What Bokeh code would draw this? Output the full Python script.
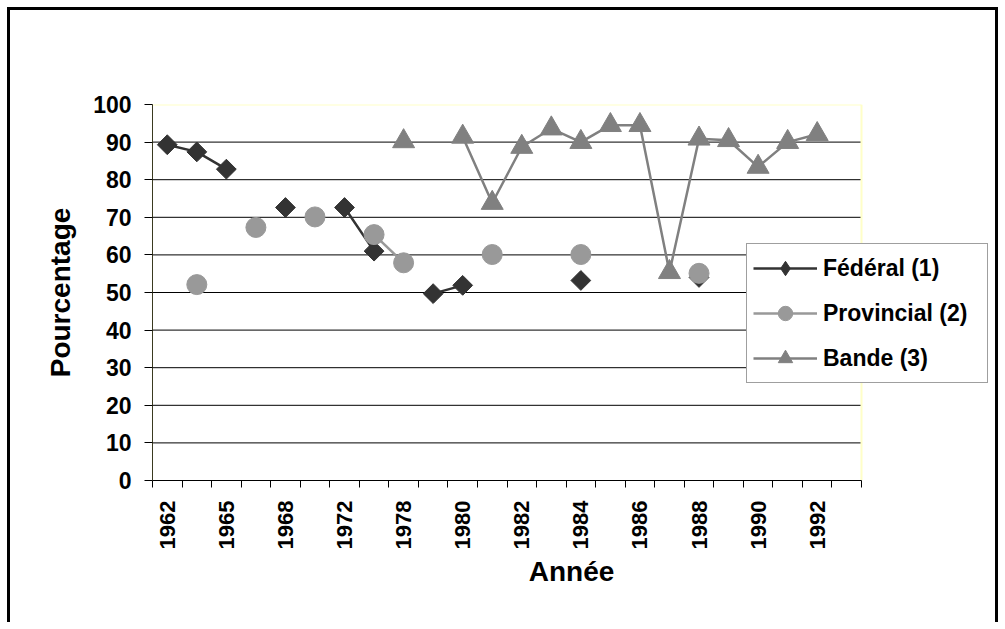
import math
from bokeh.plotting import figure
from bokeh.models import (ColumnDataSource, FixedTicker, Legend, LegendItem, Range1d)
from bokeh.embed import file_html
from bokeh.resources import INLINE

nan = float("nan")

# 24 categories (elections); labels shown on every other category
category_labels = ["1962", "", "1965", "", "1968", "", "1972", "", "1978", "", "1980", "",
                   "1982", "", "1984", "", "1986", "", "1988", "", "1990", "", "1992", ""]

federal = [89.3, 87.4, 82.8, nan, 72.6, nan, 72.6, 61.0, nan, 49.7, 51.9, nan,
           nan, nan, 53.2, nan, nan, nan, 54.0, nan, nan, nan, nan, nan]
provincial = [nan, 52.1, nan, 67.3, nan, 70.1, nan, 65.4, 57.9, nan, nan, 60.1,
              nan, nan, 60.1, nan, nan, nan, 55.1, nan, nan, nan, nan, nan]
bande = [nan, nan, nan, nan, nan, nan, nan, nan, 90.2, nan, 91.4, 73.8,
         88.7, 93.6, 90.0, 94.5, 94.5, 55.4, 90.9, 90.5, 83.4, 90.0, 92.1, nan]

series_names = ["Fédéral (1)", "Provincial (2)", "Bande (3)"]
y_ticks = list(range(0, 101, 10))

FONT = "Liberation Sans"

n = len(category_labels)
idx = list(range(n))
src = ColumnDataSource(dict(x=idx, federal=federal, provincial=provincial, bande=bande))

# pixel layout: plot area 152..861 for categories, frame extended to 990 so legend is not clipped
cat_lo, cat_hi = -0.5, n - 0.5
x_end = cat_lo + n * (990 - 152) / (861 - 152)

p = figure(width=991, height=615,
           x_range=Range1d(cat_lo, x_end), y_range=Range1d(0, 100),
           output_backend="svg", toolbar_location=None,
           min_border_left=142, min_border_right=11, min_border_top=94, min_border_bottom=145)
p.styles = {"margin-left": "7px", "margin-top": "7px",
            "border-top": "3px solid black", "border-left": "3px solid black",
            "border-right": "3px solid black"}

p.background_fill_color = "white"
p.border_fill_color = "white"
p.outline_line_color = None

# Gridlines and plot-area edges (drawn over the category span only)
grid_vals = y_ticks[1:-1]
p.segment(x0=[cat_lo] * len(grid_vals), x1=[cat_hi] * len(grid_vals),
          y0=grid_vals, y1=grid_vals, line_color="black", line_width=1)
p.segment(x0=[cat_lo, cat_hi], x1=[cat_hi, cat_hi], y0=[100, 0], y1=[100, 100],
          line_color="#FFFFC8", line_width=2)

# Y axis
p.yaxis.ticker = FixedTicker(ticks=y_ticks)
p.yaxis.major_tick_out = 8
p.yaxis.major_tick_in = 0
p.yaxis.minor_tick_line_color = None
p.yaxis.axis_line_color = "#3a3a20"
p.yaxis.major_tick_line_color = "black"
p.yaxis.major_label_text_font = FONT
p.yaxis.major_label_text_font_style = "bold"
p.yaxis.major_label_text_font_size = "23px"
p.yaxis.major_label_text_color = "black"
p.yaxis.major_label_standoff = 13
p.yaxis.axis_label = "Pourcentage"
p.yaxis.axis_label_text_font = FONT
p.yaxis.axis_label_text_font_style = "bold"
p.yaxis.axis_label_text_font_size = "28px"
p.yaxis.axis_label_text_color = "black"
p.yaxis.axis_label_standoff = 14

# X axis (ticks on category boundaries, labels on even categories)
even = [i for i in idx if category_labels[i]]
p.xaxis.bounds = (cat_lo, cat_hi)
p.xaxis.ticker = FixedTicker(ticks=even, minor_ticks=[i - 0.5 for i in idx] + [cat_hi])
p.xaxis.major_label_overrides = {i: category_labels[i] for i in even}
p.xaxis.major_tick_line_color = None
p.xaxis.major_tick_out = 0
p.xaxis.major_tick_in = 0
p.xaxis.minor_tick_line_color = "black"
p.xaxis.minor_tick_out = 7
p.xaxis.minor_tick_in = 0
p.xaxis.axis_line_color = "black"
p.xaxis.major_label_orientation = math.pi / 2
p.xaxis.major_label_text_font = FONT
p.xaxis.major_label_text_font_style = "bold"
p.xaxis.major_label_text_font_size = "22px"
p.xaxis.major_label_text_color = "black"
p.xaxis.major_label_standoff = 13
p.xaxis.axis_label = "Année"
p.xaxis.axis_label_text_font = FONT
p.xaxis.axis_label_text_font_style = "bold"
p.xaxis.axis_label_text_font_size = "28px"
p.xaxis.axis_label_text_color = "black"
p.xaxis.axis_label_standoff = 4

p.xgrid.visible = False
p.ygrid.visible = False

# Series
fed_l = p.line("x", "federal", source=src, line_color="#333333", line_width=2.5)
fed_m = p.scatter("x", "federal", source=src, marker="square", angle=math.pi / 4,
                  size=14, fill_color="#333333", line_color="#333333")
pro_l = p.line("x", "provincial", source=src, line_color="#999999", line_width=2.5)
pro_m = p.scatter("x", "provincial", source=src, marker="circle", size=20,
                  fill_color="#999999", line_color="#999999")
ban_l = p.line("x", "bande", source=src, line_color="#808080", line_width=2.5)
ban_m = p.scatter("x", "bande", source=src, marker="triangle", size=22,
                  fill_color="#808080", line_color="#808080")

# legend-only diamond key (legend markers are drawn unrotated); NaN point draws nothing in the plot
key_src = ColumnDataSource(dict(x=[nan], y=[nan]))
fed_key = p.scatter("x", "y", source=key_src, marker="diamond", size=14,
                    fill_color="#333333", line_color="#333333")

legend = Legend(items=[
    LegendItem(label=series_names[0], renderers=[fed_l, fed_key], index=0),
    LegendItem(label=series_names[1], renderers=[pro_l, pro_m], index=1),
    LegendItem(label=series_names[2], renderers=[ban_l, ban_m], index=8),
], location=(594, 97))
legend.label_text_font = FONT
legend.label_text_font_style = "bold"
legend.label_text_font_size = "23px"
legend.label_text_color = "black"
legend.border_line_color = "#404040"
legend.border_line_width = 1
legend.background_fill_color = "white"
legend.background_fill_alpha = 1
legend.padding = 6
legend.spacing = 9
legend.glyph_width = 64
legend.glyph_height = 36
legend.label_height = 36
legend.label_width = 158
legend.label_standoff = 6
legend.margin = 0
p.add_layout(legend)

open("out.html", "w").write(file_html(p, INLINE))
